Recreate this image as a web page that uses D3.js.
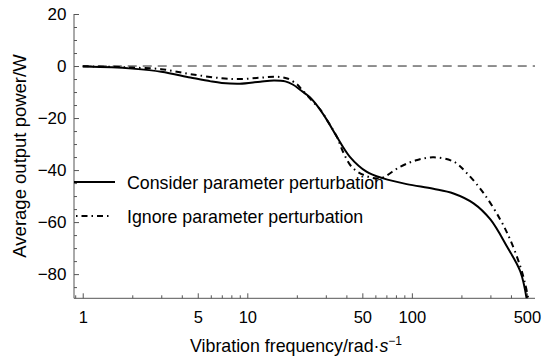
<!DOCTYPE html>
<html>
<head>
<meta charset="utf-8">
<script src="https://cdn.jsdelivr.net/npm/d3@7"></script>
<style>
  html, body { margin: 0; padding: 0; background: #fff; }
  svg { display: block; font-family: "Liberation Sans", Arial, sans-serif; }
</style>
</head>
<body>
<svg id="chart" width="550" height="363"></svg>
<script>
// ---- data ----
const considerFreq = [1, 1.5, 2, 3, 4.5, 6, 7, 9, 12, 14.5, 17, 19, 21, 24, 26, 30.5, 35, 42, 53, 67, 93, 135, 179, 237, 300, 379, 456, 500];
const considerPower = [-0.2, -0.5, -1.0, -2.2, -4.4, -5.9, -6.5, -6.8, -6.0, -5.6, -5.9, -7.2, -9.2, -12, -14.5, -20.8, -27.2, -34.9, -40.6, -43.2, -45.4, -47.2, -49, -52.8, -59, -69.5, -79, -90];

const ignoreFreq = [1, 1.5, 2, 3, 4.5, 7, 9, 12, 15, 17.5, 20, 21, 25, 28, 31, 35, 38.5, 43, 51, 64, 85, 108, 136, 180, 216, 273, 345, 396, 456, 489, 512];
const ignorePower = [-0.1, -0.3, -0.6, -1.2, -3.1, -4.7, -5.0, -4.5, -4.1, -4.8, -7.0, -8.4, -13.7, -17, -21.5, -27.2, -33.5, -38.7, -41.9, -43.2, -38.7, -36.1, -35.1, -36.8, -41.2, -48.9, -59.1, -66.8, -77.1, -84, -90];

const referenceFreq = [1, 560];
const referencePower = [0, 0];

const xMajorTicks = [1, 5, 10, 50, 100, 500];
const xMinorTicks = [0.9, 2, 3, 4, 6, 7, 8, 9, 20, 30, 40, 60, 70, 80, 90, 200, 300, 400];
const yMajorTicks = [-80, -60, -40, -20, 0, 20];
const yMinorTicks = [-85, -75, -70, -65, -55, -50, -45, -35, -30, -25, -15, -10, -5, 5, 10, 15];

const seriesNames = ["Consider parameter perturbation", "Ignore parameter perturbation"];
const xTitle = "Vibration frequency/rad·";
const yTitle = "Average output power/W";

// ---- layout ----
const svg = d3.select("#chart");
const pLeft = 74, pRight = 535, pTop = 14, pBottom = 298.3;
const axisColor = "#555";

const x = d3.scaleLog().domain([0.885, 560]).range([pLeft, pRight]);
const y = d3.scaleLinear().domain([-89.3, 20]).range([pBottom, pTop]);

svg.append("defs").append("clipPath").attr("id", "plotclip")
  .append("rect").attr("x", pLeft).attr("y", pTop).attr("width", pRight - pLeft + 5).attr("height", pBottom - pTop);

// axes
const xAxisMajor = d3.axisBottom(x).tickValues(xMajorTicks).tickFormat(d3.format("d"))
  .tickSizeInner(-5).tickSizeOuter(0).tickPadding(12.5);
const xAxisMinor = d3.axisBottom(x).tickValues(xMinorTicks).tickFormat("")
  .tickSizeInner(-3).tickSizeOuter(0);
const yAxisMajor = d3.axisLeft(y).tickValues(yMajorTicks).tickFormat(d3.format("d"))
  .tickSizeInner(-5).tickSizeOuter(0).tickPadding(7.5);
const yAxisMinor = d3.axisLeft(y).tickValues(yMinorTicks).tickFormat("")
  .tickSizeInner(-3).tickSizeOuter(0);

function styleAxis(g, fs) {
  g.select(".domain").attr("stroke", axisColor).attr("stroke-width", 1);
  g.selectAll(".tick line").attr("stroke", axisColor).attr("stroke-width", 1);
  g.selectAll(".tick text").attr("fill", "#000").style("font-size", fs + "px")
    .style("font-family", '"Liberation Sans", Arial, sans-serif');
}

const gx1 = svg.append("g").attr("transform", `translate(0,${pBottom})`).call(xAxisMajor);
styleAxis(gx1, 16.5);
const gx2 = svg.append("g").attr("transform", `translate(0,${pBottom})`).call(xAxisMinor);
styleAxis(gx2, 16.5);
gx2.select(".domain").remove();
gx1.select(".domain").attr("d", `M${pLeft},0H${pRight}`);

const gy1 = svg.append("g").attr("transform", `translate(${pLeft},0)`).call(yAxisMajor);
styleAxis(gy1, 17);
const gy2 = svg.append("g").attr("transform", `translate(${pLeft},0)`).call(yAxisMinor);
styleAxis(gy2, 17);
gy2.select(".domain").remove();
gy1.select(".domain").attr("d", `M0,${pBottom}V${pTop}`);

// titles
const xt = svg.append("text").attr("x", 190).attr("y", 352)
  .style("font-size", "17.8px").attr("fill", "#000");
xt.append("tspan").text(xTitle);
xt.append("tspan").attr("font-style", "italic").text("s");
xt.append("tspan").attr("dy", -7).style("font-size", "12px").text("−1");

svg.append("text").attr("transform", "translate(26,156) rotate(-90)")
  .attr("text-anchor", "middle").style("font-size", "18.5px").attr("fill", "#000")
  .text(yTitle);

// lines
const plot = svg.append("g").attr("clip-path", "url(#plotclip)");
const line = d3.line().x(d => x(d[0])).y(d => y(d[1])).curve(d3.curveCatmullRom.alpha(0.5));

plot.append("path").datum(d3.zip(referenceFreq, referencePower))
  .attr("d", d3.line().x(d => x(d[0])).y(d => y(d[1])))
  .attr("fill", "none").attr("stroke", "#222").attr("stroke-width", 1)
  .attr("stroke-dasharray", "9,6");

plot.append("path").datum(d3.zip(ignoreFreq, ignorePower))
  .attr("d", line).attr("fill", "none").attr("stroke", "#000").attr("stroke-width", 2)
  .attr("stroke-dasharray", "6,4,1.5,4");

plot.append("path").datum(d3.zip(considerFreq, considerPower))
  .attr("d", line).attr("fill", "none").attr("stroke", "#000").attr("stroke-width", 2);

// legend
const legend = svg.append("g");
legend.append("line").attr("x1", 74).attr("x2", 115).attr("y1", 182).attr("y2", 182)
  .attr("stroke", "#000").attr("stroke-width", 2);
legend.append("text").attr("x", 127).attr("y", 189).style("font-size", "17.8px").attr("fill", "#000")
  .text(seriesNames[0]);
legend.append("line").attr("x1", 76).attr("x2", 112).attr("y1", 216).attr("y2", 216)
  .attr("stroke", "#000").attr("stroke-width", 2).attr("stroke-dasharray", "1.5,4,6,4");
legend.append("text").attr("x", 127).attr("y", 222.5).style("font-size", "17.8px").attr("fill", "#000")
  .text(seriesNames[1]);
</script>
</body>
</html>
